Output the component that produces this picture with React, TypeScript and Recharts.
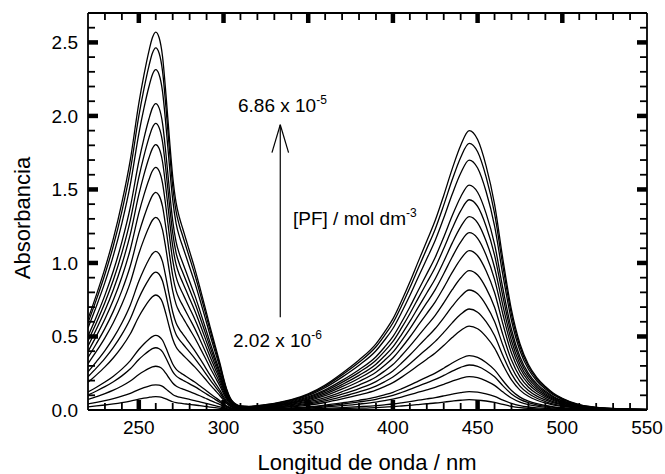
import { LineChart, Line, XAxis, YAxis, ReferenceLine } from 'recharts'

// wavelength grid (nm) the spectra were read on
const wavelengths = [
  220, 225, 230, 235, 240, 245, 250, 253, 256, 258, 260, 262, 264, 266, 268, 270, 272, 274, 276, 278,
  280, 283, 286, 289, 292, 295, 298, 300, 302, 304, 306, 308, 310, 315, 320, 330, 340, 350, 360, 370,
  380, 390, 395, 400, 405, 410, 415, 420, 425, 430, 435, 440, 445, 450, 455, 460, 465, 470, 475, 480,
  485, 490, 495, 500, 510, 520, 530, 540, 550,
]

const uvShape = [
  0.235, 0.3, 0.37, 0.45, 0.545, 0.66, 0.81, 0.885, 0.95, 0.985, 1.0, 0.985, 0.935, 0.835, 0.72, 0.615, 0.545, 0.505, 0.475, 0.445,
  0.415, 0.37, 0.32, 0.268, 0.215, 0.165, 0.115, 0.078, 0.046, 0.024, 0.012, 0.006, 0.003, 0.001, 0, 0, 0, 0, 0, 0,
  0, 0, 0, 0, 0, 0, 0, 0, 0, 0, 0, 0, 0, 0, 0, 0, 0, 0, 0, 0,
  0, 0, 0, 0, 0, 0, 0, 0, 0,
]

const visShape = [
  0.0105, 0.0105, 0.0105, 0.0105, 0.0105, 0.0105, 0.0105, 0.0105, 0.0105, 0.0105, 0.0105, 0.0105, 0.0105, 0.0105, 0.0105, 0.0105, 0.0105, 0.0105, 0.0105, 0.0105,
  0.0105, 0.0105, 0.0105, 0.0105, 0.0105, 0.0105, 0.0105, 0.0105, 0.0105, 0.0105, 0.0105, 0.0105, 0.0105, 0.0116, 0.0158, 0.0237, 0.0368, 0.0579, 0.0895, 0.1316,
  0.179, 0.237, 0.279, 0.326, 0.389, 0.458, 0.532, 0.605, 0.679, 0.768, 0.863, 0.947, 1.0, 0.968, 0.874, 0.737, 0.537, 0.358, 0.237, 0.163,
  0.116, 0.084, 0.059, 0.042, 0.019, 0.0095, 0.0053, 0.0032, 0.0021,
]

// peak absorbances of the 17 spectra, lowest to highest [PF]
const uvPeaks = [0.09, 0.17, 0.295, 0.42, 0.503, 0.776, 0.93, 1.07, 1.3, 1.469, 1.637, 1.791, 1.934, 2.068, 2.297, 2.444, 2.55]
const visPeaks = [0.07, 0.125, 0.227, 0.306, 0.37, 0.571, 0.687, 0.816, 0.948, 1.084, 1.206, 1.315, 1.43, 1.53, 1.7, 1.814, 1.9]

const xTicks = [
  220, 230, 240, 250, 260, 270, 280, 290, 300, 310, 320, 330, 340, 350, 360, 370, 380,
  390, 400, 410, 420, 430, 440, 450, 460, 470, 480, 490, 500, 510, 520, 530, 540, 550,
]
const xLabels = [250, 300, 350, 400, 450, 500, 550]
const yTicks = [
  0, 0.1, 0.2, 0.3, 0.4, 0.5, 0.6, 0.7, 0.8, 0.9, 1.0, 1.1, 1.2, 1.3,
  1.4, 1.5, 1.6, 1.7, 1.8, 1.9, 2.0, 2.1, 2.2, 2.3, 2.4, 2.5, 2.6,
]
const yLabels = [0, 0.5, 1.0, 1.5, 2.0, 2.5]

const data = wavelengths.map((wl, i) => {
  const row: Record<string, number> = { wl }
  uvPeaks.forEach((p, k) => {
    row['c' + k] = +(p * uvShape[i] + visPeaks[k] * visShape[i]).toFixed(4)
  })
  return row
})

const FONT = '"Liberation Sans", Arial, sans-serif'
const W = 665
const H = 474

const isMajorX = (v: number) => xLabels.includes(v)
const isMajorY = (v: number) => yLabels.some((l) => Math.abs(l - v) < 1e-6)
const atXEdge = (v: number) => v === 220 || v === 550
const atYEdge = (v: number) => v === 0

function BottomTick({ x, y, payload }: any) {
  const v = payload.value
  const major = isMajorX(v)
  return (
    <g>
      {!atXEdge(v) && (
        <line x1={x} x2={x} y1={y} y2={y - (major ? 10 : 7)} stroke="#000" strokeWidth={major ? 4.5 : 1.8} />
      )}
      {major && (
        <text x={x} y={y + 24} textAnchor="middle" fontSize={19} fontFamily={FONT} fill="#000">
          {v}
        </text>
      )}
    </g>
  )
}

function TopTick({ x, y, payload }: any) {
  const v = payload.value
  if (atXEdge(v)) return <g />
  const major = isMajorX(v)
  return <line x1={x} x2={x} y1={y} y2={y + (major ? 10 : 7)} stroke="#000" strokeWidth={major ? 4.5 : 1.8} />
}

function LeftTick({ x, y, payload }: any) {
  const v = payload.value
  const major = isMajorY(v)
  return (
    <g>
      {!atYEdge(v) && (
        <line x1={x} x2={x + (major ? 10 : 7)} y1={y} y2={y} stroke="#000" strokeWidth={major ? 4.5 : 1.8} />
      )}
      {major && (
        <text x={x - 10} y={y} dy="0.36em" textAnchor="end" fontSize={19} fontFamily={FONT} fill="#000">
          {v.toFixed(1)}
        </text>
      )}
    </g>
  )
}

function RightTick({ x, y, payload }: any) {
  const v = payload.value
  if (atYEdge(v)) return <g />
  const major = isMajorY(v)
  return <line x1={x} x2={x - (major ? 10 : 7)} y1={y} y2={y} stroke="#000" strokeWidth={major ? 4.5 : 1.8} />
}

const axisLine = { stroke: '#000', strokeWidth: 1.8 }

export default function App() {
  return (
    <div style={{ position: 'absolute', left: 0, top: 0, width: W, height: H, background: '#fff' }}>
      <LineChart width={W} height={H} data={data} margin={{ top: 8, right: 8, bottom: 34, left: 48 }}>
        <XAxis
          dataKey="wl"
          type="number"
          domain={[220, 550]}
          ticks={xTicks}
          interval={0}
          tickSize={0}
          tickMargin={0}
          tickLine={false}
          tick={<BottomTick />}
          axisLine={axisLine}
          height={30}
          allowDataOverflow
        />
        <XAxis
          xAxisId="top"
          orientation="top"
          dataKey="wl"
          type="number"
          domain={[220, 550]}
          ticks={xTicks}
          interval={0}
          tickSize={0}
          tickMargin={0}
          tickLine={false}
          tick={<TopTick />}
          axisLine={axisLine}
          height={5}
          allowDataOverflow
        />
        <YAxis
          type="number"
          domain={[0, 2.7]}
          ticks={yTicks}
          interval={0}
          tickSize={0}
          tickMargin={0}
          tickLine={false}
          tick={<LeftTick />}
          axisLine={axisLine}
          width={40}
          allowDataOverflow
        />
        <YAxis
          yAxisId="right"
          orientation="right"
          type="number"
          domain={[0, 2.7]}
          ticks={yTicks}
          interval={0}
          tickSize={0}
          tickMargin={0}
          tickLine={false}
          tick={<RightTick />}
          axisLine={axisLine}
          width={10}
          allowDataOverflow
        />
        {uvPeaks.map((_, k) => (
          <Line
            key={k}
            dataKey={'c' + k}
            type="monotone"
            stroke="#000"
            strokeWidth={1.3}
            dot={false}
            activeDot={false}
            isAnimationActive={false}
          />
        ))}
        {/* concentration arrow */}
        <ReferenceLine segment={[{ x: 333.5, y: 0.63 }, { x: 333.5, y: 1.94 }]} stroke="#000" strokeWidth={1.2} />
        <ReferenceLine segment={[{ x: 333.5, y: 1.94 }, { x: 328.6, y: 1.75 }]} stroke="#000" strokeWidth={1.2} />
        <ReferenceLine segment={[{ x: 333.5, y: 1.94 }, { x: 338.4, y: 1.75 }]} stroke="#000" strokeWidth={1.2} />
        <text x={238} y={112} fontSize={19} fontFamily={FONT} fill="#000">
          6.86 x 10
          <tspan fontSize={12} dy={-8}>-5</tspan>
        </text>
        <text x={293} y={225} fontSize={19} fontFamily={FONT} fill="#000">
          [PF] / mol dm
          <tspan fontSize={12} dy={-8}>-3</tspan>
        </text>
        <text x={233} y={347} fontSize={19} fontFamily={FONT} fill="#000">
          2.02 x 10
          <tspan fontSize={12} dy={-8}>-6</tspan>
        </text>
        <text x={367} y={470} textAnchor="middle" fontSize={22} fontFamily={FONT} fill="#000">
          Longitud de onda / nm
        </text>
        <text
          x={22}
          y={218}
          transform="rotate(-90 22 218)"
          dy="0.36em"
          textAnchor="middle"
          fontSize={22}
          fontFamily={FONT}
          fill="#000"
        >
          Absorbancia
        </text>
      </LineChart>
    </div>
  )
}
